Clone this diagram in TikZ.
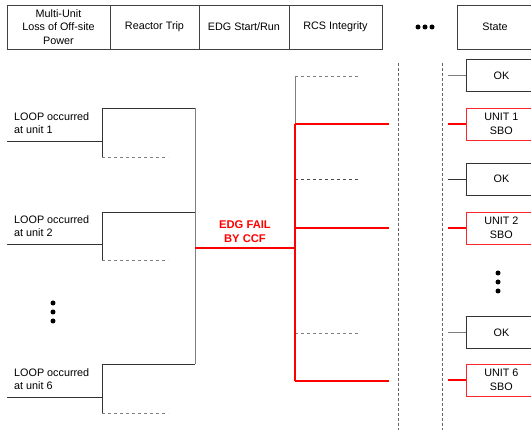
\documentclass[tikz,border=0pt]{standalone}
\usepackage{fontspec}
\setmainfont{Liberation Sans}
\usetikzlibrary{positioning}

\begin{document}
\begin{tikzpicture}[x=1pt, y=-1pt, font=\fontsize{10.8}{13.5}\selectfont,
    headbox/.style={draw=black!75, line width=0.8pt, minimum height=44pt, inner sep=0pt, outer sep=0pt, align=center},
    okstate/.style={draw=black!80, line width=0.8pt, minimum width=70pt, minimum height=32pt, inner sep=0pt, align=center},
    sbostate/.style={okstate, draw=red!85},
    loopnote/.style={anchor=south west, align=left, inner xsep=7pt, inner ysep=7pt},
    branch/.style={draw=black!80, line width=0.8pt},
    nobranch/.style={draw=gray, line width=0.8pt, dashed},
    failpath/.style={draw=red, line width=2.4pt},
    stage/.style={draw=black!60, line width=0.6pt, densely dashed},
    bullet/.style={circle, fill=black, inner sep=0pt, minimum size=5pt}]
    \useasboundingbox (0,0) rectangle (531,430);
    \clip (0,0) rectangle (531,430);

    % heading
    \node[headbox, minimum width=103pt, anchor=north west] (ie) at (7,5) {Multi-Unit\\Loss of Off-site\\Power};
    \node[headbox, minimum width=89pt, right=0pt of ie] (rt) {Reactor Trip};
    \node[headbox, minimum width=90pt, right=0pt of rt] (edg) {EDG Start/Run};
    \node[headbox, minimum width=93pt, right=0pt of edg] (rcs) {RCS Integrity};
    \node[headbox, minimum width=76pt, anchor=north west] (st) at (457,5) {State};
    \node[bullet] (hd1) at (418,27) {};
    \node[bullet] (hd2) at (425,27) {};
    \node[bullet] (hd3) at (432,27) {};

    % initiating events
    \node[loopnote] (u1) at (7,141) {LOOP occurred\\at unit 1};
    \node[loopnote] (u2) at (7,244) {LOOP occurred\\at unit 2};
    \node[loopnote] (u6) at (7,397) {LOOP occurred\\at unit 6};
    \node[bullet] (ld1) at (53,303) {};
    \node[bullet] (ld2) at (53,312) {};
    \node[bullet] (ld3) at (53,321) {};

    \coordinate (b1) at (102,141); \coordinate (d1) at (102,157);
    \coordinate (e1) at (168,157); \coordinate (t1) at (195,108);
    \coordinate (b2) at (102,244); \coordinate (d2) at (102,260);
    \coordinate (e2) at (168,260); \coordinate (t2) at (195,212);
    \coordinate (b6) at (102,397); \coordinate (d6) at (102,413);
    \coordinate (e6) at (168,413); \coordinate (t6) at (195,364);

    \draw[branch] (u1.south west) -- (b1) |- (t1);
    \draw[branch] (b1) -- (d1);
    \draw[nobranch] (d1) -- (e1);
    \draw[branch] (u2.south west) -- (b2) |- (t2);
    \draw[branch] (b2) -- (d2);
    \draw[nobranch] (d2) -- (e2);
    \draw[branch] (u6.south west) -- (b6) |- (t6);
    \draw[branch] (b6) -- (d6);
    \draw[nobranch] (d6) -- (e6);
    \draw[branch, draw=gray] (t1) -- (t6);

    % EDG fails by CCF
    \coordinate (j) at (195,248);
    \coordinate (k) at (295,248);
    \draw[failpath] (j) -- (k)
        node[midway, above=1pt, text=red, font=\fontsize{11.2}{14}\selectfont\bfseries, align=center] (ccf) {EDG FAIL\\BY CCF};

    % RCS integrity
    \coordinate (r1) at (295,124); \coordinate (f1) at (389,124);
    \coordinate (r2) at (295,228); \coordinate (f2) at (389,228);
    \coordinate (r6) at (295,381); \coordinate (f6) at (389,381);
    \coordinate (n1) at (295,76);  \coordinate (n1e) at (360,76);
    \coordinate (n2) at (295,179); \coordinate (n2e) at (360,179);
    \coordinate (n6) at (295,333); \coordinate (n6e) at (360,333);

    \draw[branch, draw=gray] (r1) -- (n1);
    \draw[nobranch] (n1) -- (n1e);
    \draw[nobranch, draw=black!70] (n2) -- (n2e);
    \draw[nobranch] (n6) -- (n6e);
    \draw[failpath] (r1) -- (r6);
    \draw[failpath] (r1) -- (f1);
    \draw[failpath] (r2) -- (f2);
    \draw[failpath] (r6) -- (f6);

    % omitted headings
    \coordinate (sa) at (398,63); \coordinate (sb) at (398,430);
    \coordinate (sc) at (442,63); \coordinate (sd) at (442,430);
    \draw[stage] (sa) -- (sb);
    \draw[stage] (sc) -- (sd);

    % end states
    \node[okstate, anchor=west] (ok1) at (466,75.5) {OK};
    \node[sbostate, anchor=west] (sbo1) at (466,124) {UNIT 1\\SBO};
    \node[okstate, anchor=west] (ok2) at (466,179) {OK};
    \node[sbostate, anchor=west] (sbo2) at (466,228) {UNIT 2\\SBO};
    \node[okstate, anchor=west] (ok6) at (466,332.5) {OK};
    \node[sbostate, anchor=west] (sbo6) at (466,380) {UNIT 6\\SBO};
    \node[bullet] (rd1) at (498,273) {};
    \node[bullet] (rd2) at (498,282) {};
    \node[bullet] (rd3) at (498,291) {};

    \coordinate (g1) at (448,75.5); \coordinate (h1) at (448,124);
    \coordinate (g2) at (448,179);  \coordinate (h2) at (448,228);
    \coordinate (g6) at (448,332.5); \coordinate (h6) at (448,380);
    \draw[branch, draw=gray] (g1) -- (ok1.west);
    \draw[branch] (g2) -- (ok2.west);
    \draw[branch, draw=gray] (g6) -- (ok6.west);
    \draw[failpath] (h1) -- (sbo1.west);
    \draw[failpath] (h2) -- (sbo2.west);
    \draw[failpath] (h6) -- (sbo6.west);
\end{tikzpicture}
\end{document}
